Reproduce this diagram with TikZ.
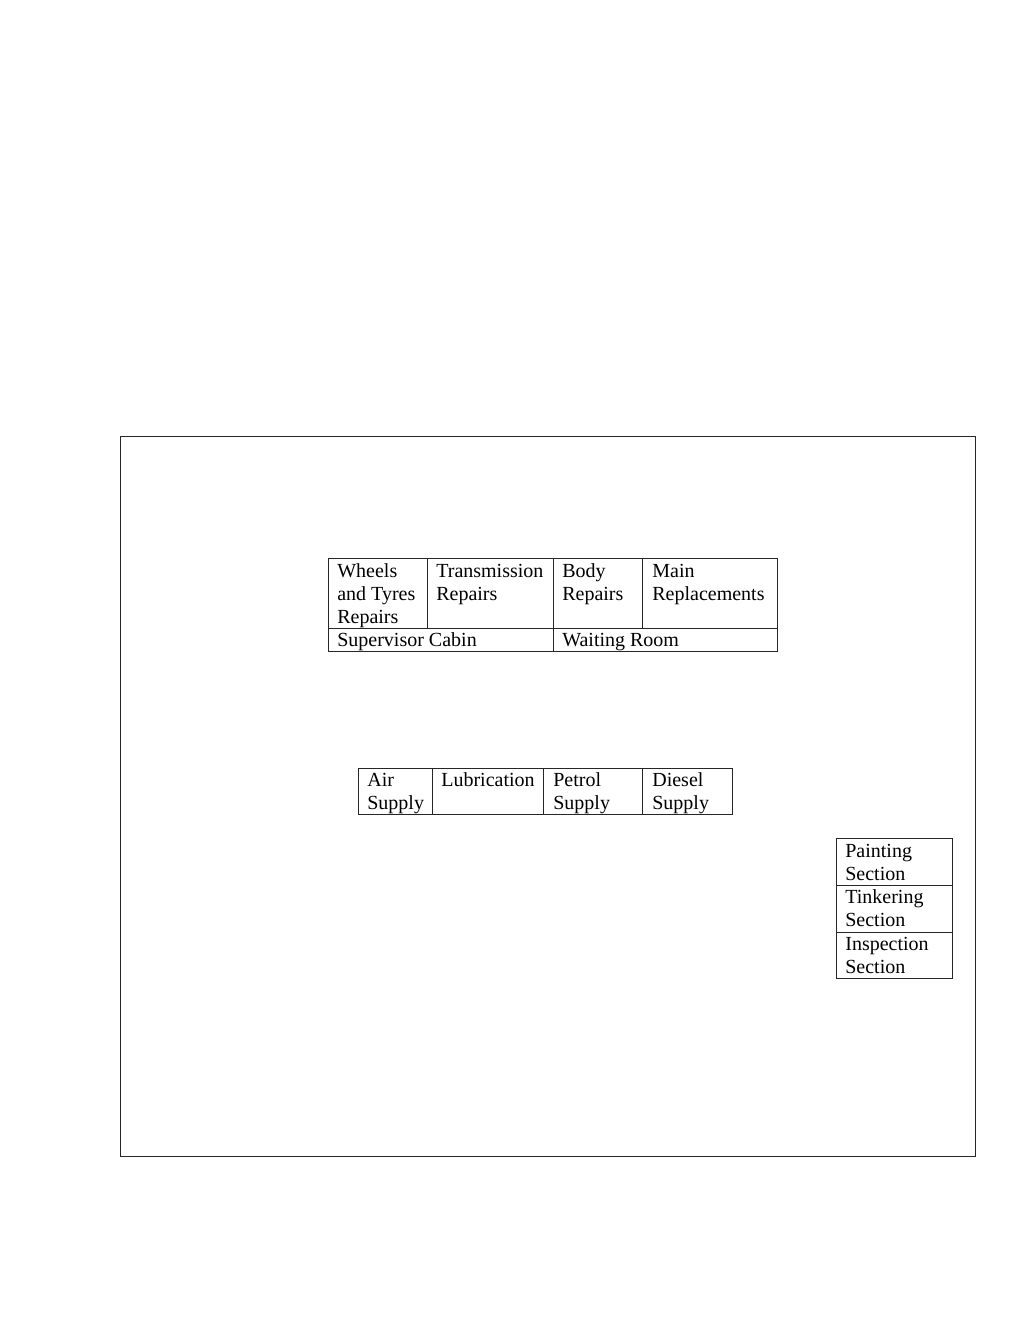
\documentclass[tikz,border=0pt]{standalone}
\usepackage{fontspec}
\setmainfont{Liberation Serif}
\begin{document}
\begin{tikzpicture}[x=0.6pt,y=-0.6pt,
  frame/.style={draw=black!85,line width=0.6pt},
  lbl/.style={anchor=base west,inner sep=0pt,align=left,font=\fontsize{12pt}{13.8pt}\selectfont}]
\useasboundingbox (0,0) rectangle (1020,1320);
% outer boundary
\draw[frame] (120,436) rectangle (975,1156);
% top block
\draw[frame] (328,558) rectangle (777,651);
\draw[frame] (328,628) -- (777,628);
\draw[frame] (427,558) -- (427,628);
\draw[frame] (553,558) -- (553,651);
\draw[frame] (642,558) -- (642,628);
% (anchor base = baseline of the last line)
\node[lbl] (wheels) at (337,623) {Wheels\\and Tyres\\Repairs};
\node[lbl] (trans) at (436,600) {Transmission\\Repairs};
\node[lbl] (body) at (562,600) {Body\\Repairs};
\node[lbl] (main) at (652,600) {Main\\Replacements};
\node[lbl] (sup) at (337,646) {Supervisor Cabin};
\node[lbl] (wait) at (562,646) {Waiting Room};
% supply block
\draw[frame] (358,768) rectangle (732,814);
\draw[frame] (432,768) -- (432,814);
\draw[frame] (543,768) -- (543,814);
\draw[frame] (642,768) -- (642,814);
\node[lbl] (air) at (367,809) {Air\\Supply};
\node[lbl] (lub) at (441,786) {Lubrication};
\node[lbl] (pet) at (553,809) {Petrol\\Supply};
\node[lbl] (die) at (652,809) {Diesel\\Supply};
% sections block
\draw[frame] (836,838) rectangle (952,978);
\draw[frame] (836,885) -- (952,885);
\draw[frame] (836,932) -- (952,932);
\node[lbl] (paint) at (845,880) {Painting\\Section};
\node[lbl] (tink) at (845,926) {Tinkering\\Section};
\node[lbl] (insp) at (845,973) {Inspection\\Section};
\end{tikzpicture}
\end{document}
